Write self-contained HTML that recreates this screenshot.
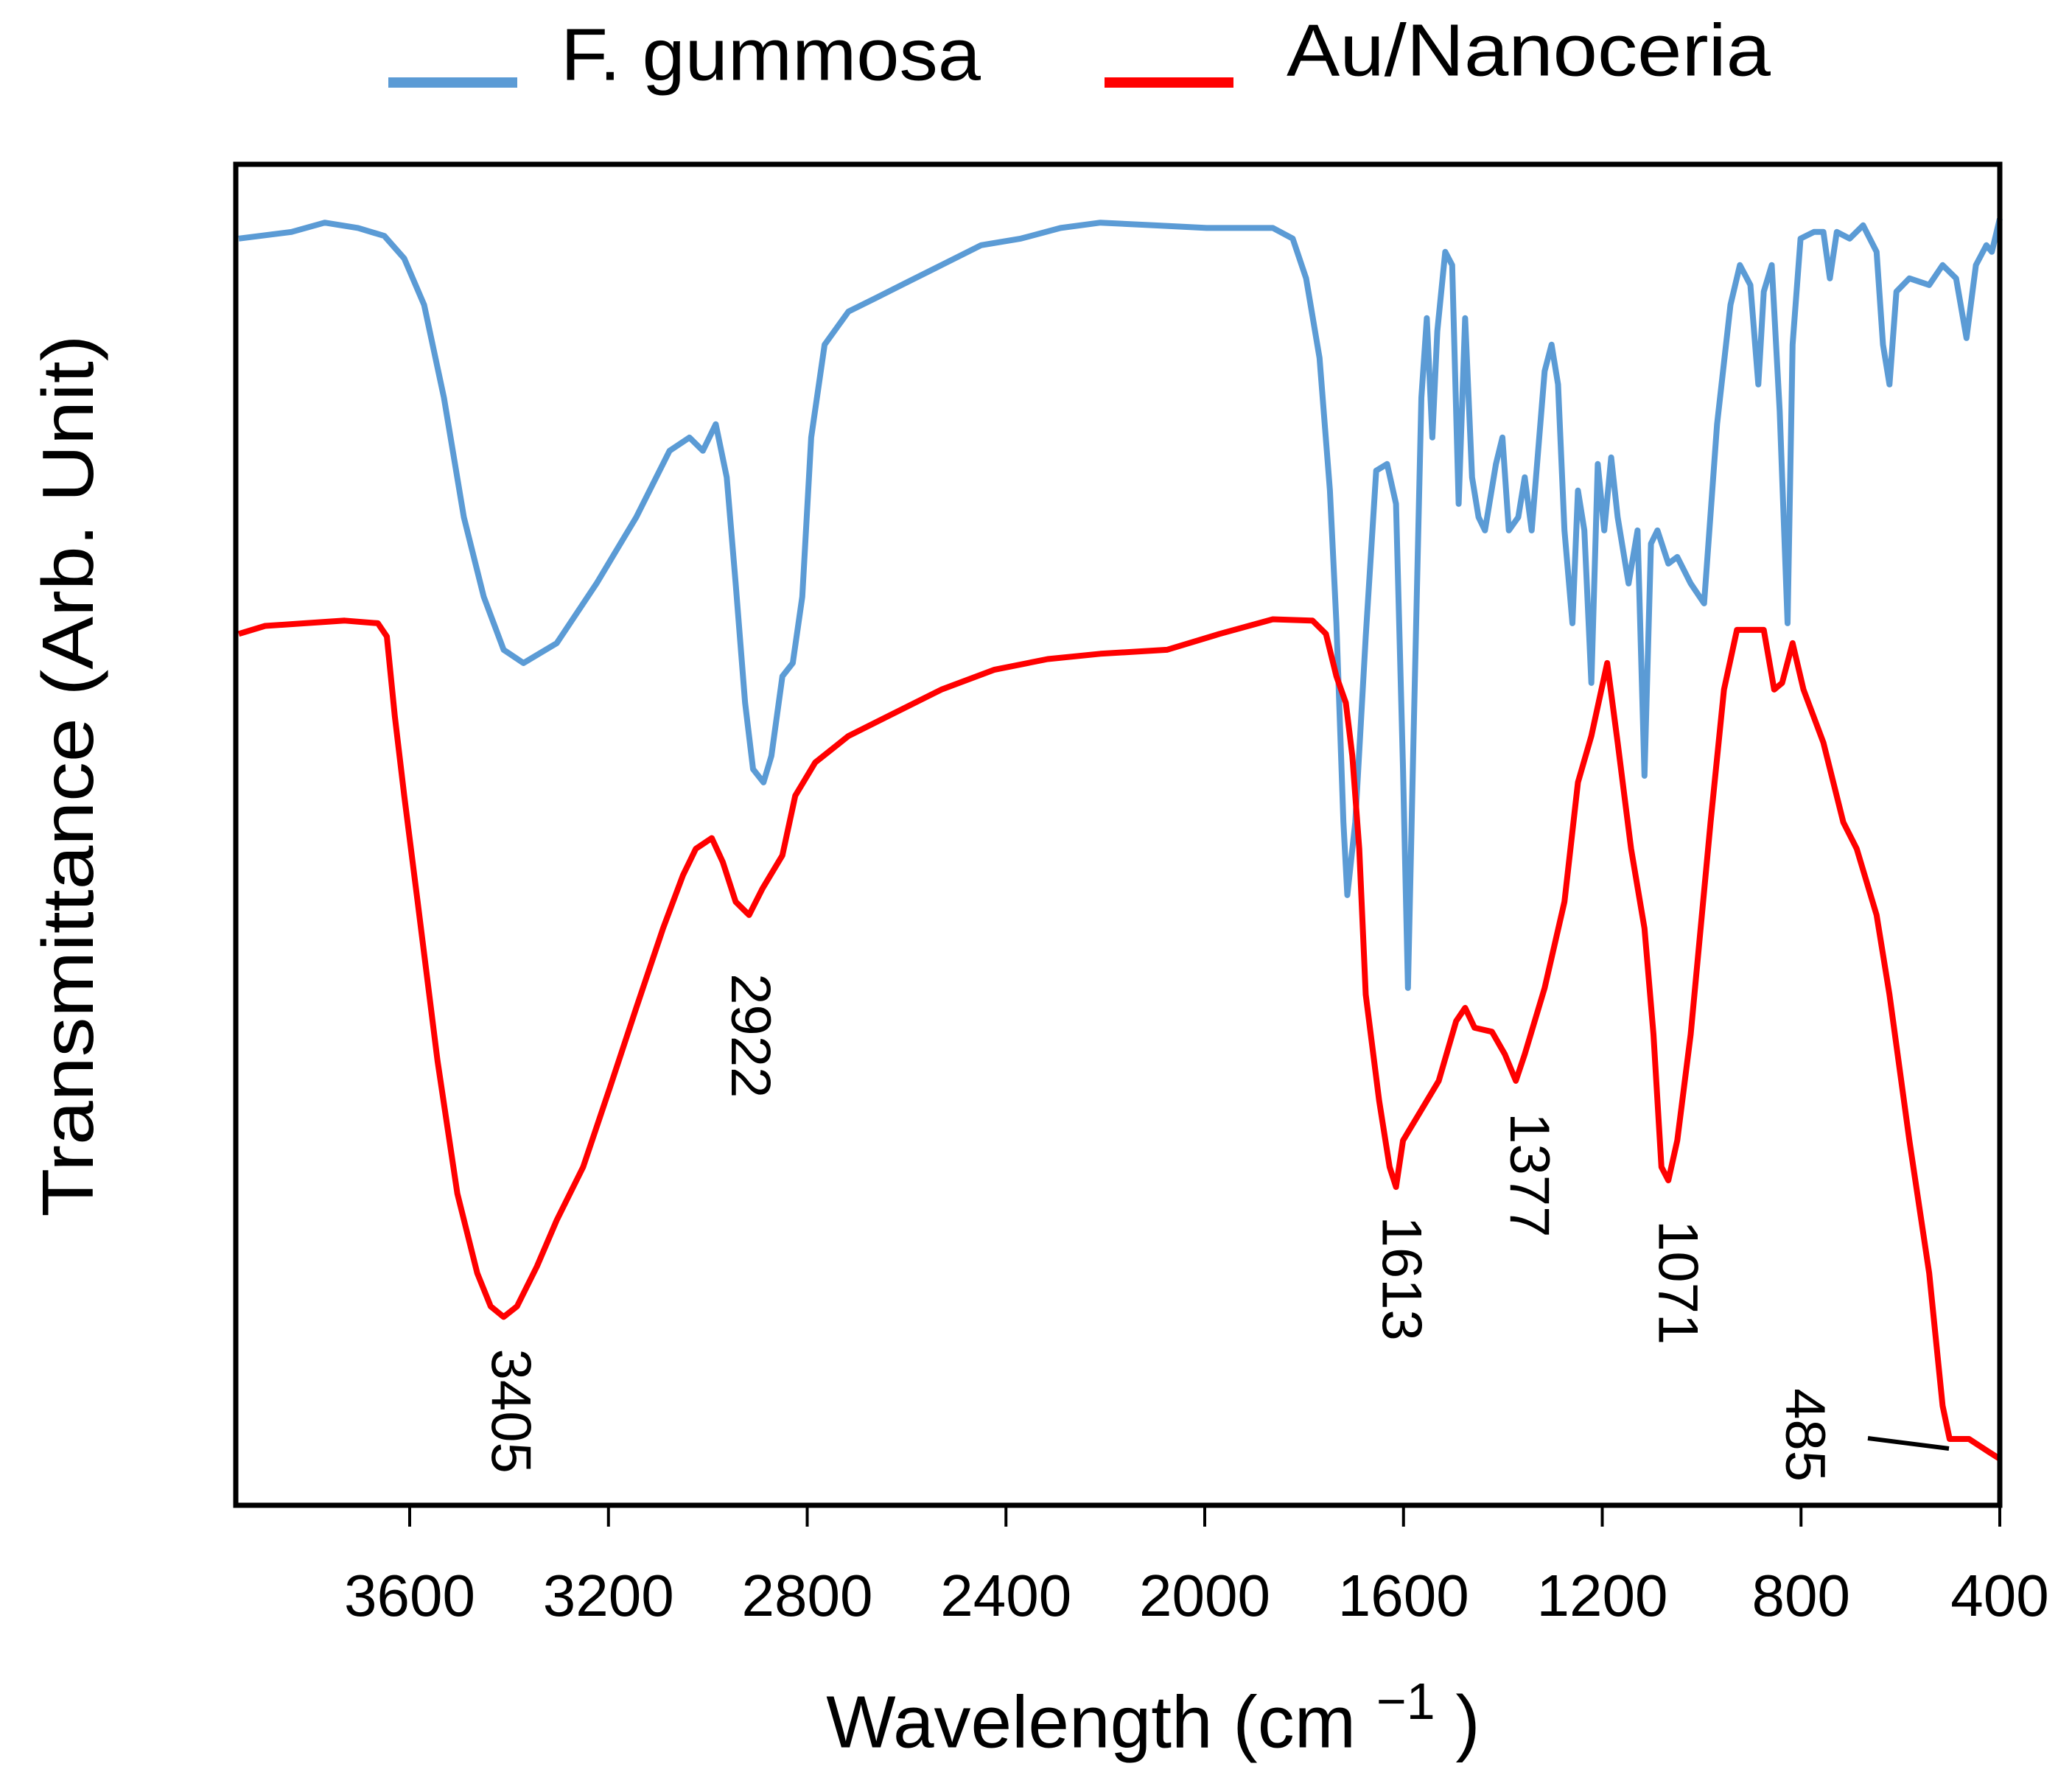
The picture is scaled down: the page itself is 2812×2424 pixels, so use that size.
<!DOCTYPE html>
<html><head><meta charset="utf-8"><style>
html,body{margin:0;padding:0;background:#fff;}
svg{display:block;font-family:"Liberation Sans",sans-serif;}
</style></head><body>
<svg id="chart" width="2812" height="2424" viewBox="0 0 2812 2424" xmlns="http://www.w3.org/2000/svg">
<g>
  <line x1="527" y1="112" x2="702" y2="112" stroke="#5b9bd5" stroke-width="14"/>
  <text x="761" y="82" font-size="100" dominant-baseline="middle" textLength="570" lengthAdjust="spacingAndGlyphs">F. gummosa</text>
  <line x1="1499" y1="112" x2="1674" y2="112" stroke="#ff0000" stroke-width="14"/>
  <text x="1746" y="76" font-size="100" dominant-baseline="middle" textLength="657" lengthAdjust="spacingAndGlyphs">Au/Nanoceria</text>
</g>
<g id="series"></g>
<rect x="320" y="223" width="2394" height="1820" fill="none" stroke="#000" stroke-width="7"/>
<g id="xticks"></g>
<text x="1565" y="2345" font-size="100" text-anchor="middle" dominant-baseline="middle">Wavelength (cm <tspan font-size="70" dy="-30">−1</tspan><tspan dy="30"> )</tspan></text>
<text transform="translate(100,1053) rotate(-90)" font-size="98" text-anchor="middle" dominant-baseline="middle" textLength="1197" lengthAdjust="spacingAndGlyphs">Transmittance (Arb. Unit)</text>
<g id="annotations"></g>
<line x1="2535" y1="1952" x2="2645" y2="1966" stroke="#000" stroke-width="6"/>
</svg>
<script>
const xTicks = [3600, 3200, 2800, 2400, 2000, 1600, 1200, 800, 400];
const blueWn = [3944,3838,3771,3704,3651,3611,3571,3531,3491,3451,3411,3371,3304,3224,3144,3077,3037,3010,2984,2962,2944,2925,2909,2888,2872,2850,2829,2810,2792,2765,2717,2663,2610,2530,2450,2370,2290,2210,2103,1996,1863,1823,1796,1769,1748,1735,1721,1713,1697,1676,1655,1633,1615,1601,1591,1580,1564,1553,1542,1532,1516,1502,1489,1476,1462,1449,1436,1414,1401,1388,1369,1356,1342,1329,1316,1302,1289,1276,1260,1249,1236,1222,1209,1196,1182,1169,1147,1129,1115,1102,1089,1067,1049,1022,995,969,942,923,902,886,875,859,843,827,817,801,774,755,742,728,702,675,648,635,622,608,582,542,515,488,467,448,427,416,400];
const blueT = [95.5,96,96.7,96.3,95.7,94,90.5,83.5,74.5,68.5,64.5,63.5,65,69.5,74.5,79.5,80.5,79.5,81.5,77.5,69.5,60.5,55.5,54.5,56.5,62.5,63.5,68.5,80.5,87.5,90,91,92,93.5,95,95.5,96.3,96.7,96.5,96.3,96.3,95.5,92.5,86.5,76.5,66.5,51.5,46,51.5,65.5,78,78.5,75.5,55.5,39,57.5,83.5,89.5,80.5,88.5,94.5,93.5,75.5,89.5,77.5,74.5,73.5,78.5,80.5,73.5,74.5,77.5,73.5,79.5,85.5,87.5,84.5,73.5,66.5,76.5,73.5,62,78.5,73.5,79,74.5,69.5,73.5,55,72.5,73.5,71,71.5,69.5,68,81.5,90.5,93.5,92,84.5,91.5,93.5,82.5,66.5,87.5,95.5,96,96,92.5,96,95.5,96.5,94.5,87.5,84.5,91.5,92.5,92,93.5,92.5,88,93.5,95,94.5,97];
const redWn = [3944,3891,3811,3731,3664,3646,3630,3611,3584,3544,3504,3464,3437,3411,3384,3344,3304,3251,3197,3144,3090,3050,3024,2992,2970,2944,2917,2890,2850,2824,2784,2717,2637,2530,2423,2316,2210,2076,1970,1863,1783,1756,1735,1716,1703,1689,1676,1649,1628,1615,1601,1569,1529,1494,1476,1457,1422,1396,1374,1356,1316,1276,1249,1222,1190,1169,1142,1115,1097,1081,1067,1049,1022,982,955,929,875,854,838,817,795,755,715,688,648,622,582,542,515,501,462,421,400];
const redT = [65.7,66.3,66.5,66.7,66.5,65.5,59.5,53.5,45.5,33.5,23.5,17.5,15,14.2,15,18,21.5,25.5,31.5,37.5,43.5,47.5,49.5,50.3,48.5,45.5,44.5,46.5,49,53.5,56,58,59.5,61.5,63,63.8,64.2,64.5,65.7,66.8,66.7,65.7,62.5,60.5,56.5,49.5,38.5,30.5,25.5,24,27.5,29.5,32,36.5,37.5,36,35.7,34,32,34,39,45.5,54.5,58,63.5,57.5,49.5,43.5,35.5,25.5,24.5,27.5,35.5,51.5,61.5,66,66,61.5,62,65,61.5,57.5,51.5,49.5,44.5,38.5,27.5,17.5,7.5,5,5,4,3.5];
const peakLabels = ["3405","2922","1613","1377","1071","485"];
const peakWn = [3405, 2922, 1612, 1355, 1056, 800];
const peakT = [7.1, 35.4, 17.1, 24.9, 16.8, 5.3];

const NS = "http://www.w3.org/2000/svg";
const X0 = 556, X1 = 2714, Y0 = 2043, YTOP = 223;
function xScale(v){ return X0 + (3600 - v) * (X1 - X0) / 3200; }
function yScale(t){ return Y0 - t * (Y0 - YTOP) / 101.1; }

const series = document.getElementById('series');
function drawLine(wn, t, color, name){
  const p = document.createElementNS(NS, 'path');
  let d = '';
  for (let i = 0; i < wn.length; i++) d += (i ? 'L' : 'M') + xScale(wn[i]).toFixed(1) + ' ' + yScale(t[i]).toFixed(1);
  p.setAttribute('d', d);
  p.setAttribute('fill', 'none');
  p.setAttribute('stroke', color);
  p.setAttribute('stroke-width', '8');
  p.setAttribute('stroke-linejoin', 'round');
  
  
  series.appendChild(p);
}
drawLine(blueWn, blueT, '#5b9bd5', 'f-gummosa-line');
drawLine(redWn, redT, '#ff0000', 'au-nanoceria-line');

const xg = document.getElementById('xticks');
xTicks.forEach(v => {
  const l = document.createElementNS(NS, 'line');
  l.setAttribute('x1', xScale(v)); l.setAttribute('x2', xScale(v));
  l.setAttribute('y1', 2043); l.setAttribute('y2', 2072);
  l.setAttribute('stroke', '#000'); l.setAttribute('stroke-width', '4');
  
  
  xg.appendChild(l);
  const t = document.createElementNS(NS, 'text');
  t.setAttribute('x', xScale(v)); t.setAttribute('y', 2172);
  t.setAttribute('font-size', '80');
  t.setAttribute('text-anchor', 'middle');
  t.setAttribute('dominant-baseline', 'middle');
  t.textContent = v;
  
  
  xg.appendChild(t);
});

const ag = document.getElementById('annotations');
peakLabels.forEach((s, i) => {
  const t = document.createElementNS(NS, 'text');
  const x = xScale(peakWn[i]), y = yScale(peakT[i]);
  t.setAttribute('transform', 'translate(' + x.toFixed(1) + ',' + y.toFixed(1) + ') rotate(90)');
  t.setAttribute('font-size', '76');
  t.setAttribute('text-anchor', 'middle');
  t.setAttribute('dominant-baseline', 'middle');
  t.textContent = s;
  
  
  ag.appendChild(t);
});
</script>
</body></html>
